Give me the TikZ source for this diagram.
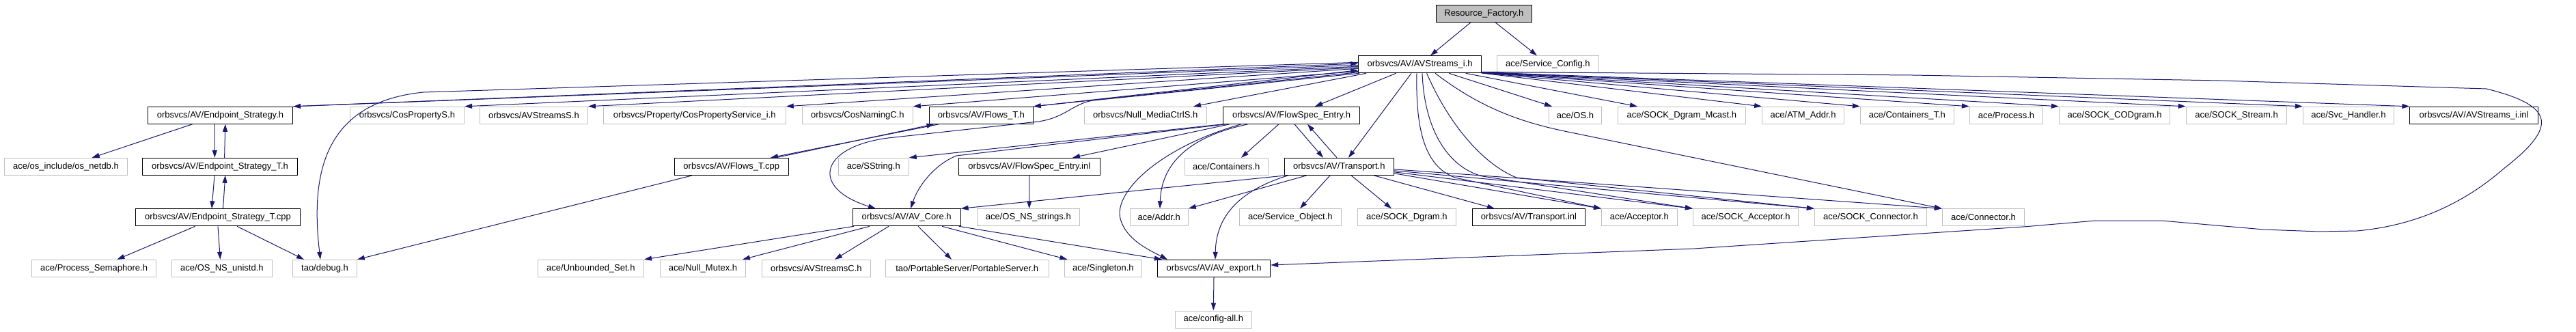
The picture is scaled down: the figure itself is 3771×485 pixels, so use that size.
\documentclass[tikz,border=0pt]{standalone}
\usepackage{fontspec}
\newfontfamily\lab{Liberation Sans}
\usetikzlibrary{arrows.meta,calc}
\definecolor{edgec}{HTML}{191970}
\definecolor{gborder}{HTML}{BFBFBF}
\begin{document}
\begin{tikzpicture}[x=1pt,y=-1pt,
  nb/.style={draw, rectangle, minimum height=25pt, inner sep=0pt, line width=1pt, text=black, font=\lab\fontsize{13}{15}\selectfont},
  gb/.style={nb, draw=gborder},
  bb/.style={nb, draw=black},
  edg/.style={draw=edgec, line width=1pt, -{Triangle[length=11pt,width=7pt]}}]
\fill[white] (0,0) rectangle (3771,485);
\useasboundingbox (0,0) rectangle (3771,485);
% row 0
\node[bb, fill=gborder, minimum width=140pt] (rf) at (2172.4,19.8) {Resource\_Factory.h};
% row 1
\node[bb, minimum width=180pt] (avs) at (2078.6,94.3) {orbsvcs/AV/AVStreams\_i.h};
\node[gb, minimum width=149pt] (sc) at (2265.9,94.3) {ace/Service\_Config.h};
% row 2
\node[bb, minimum width=212.3pt] (es) at (322.5,168.8) {orbsvcs/AV/Endpoint\_Strategy.h};
\node[gb, minimum width=167.4pt] (cps) at (595.9,168.8) {orbsvcs/CosPropertyS.h};
\node[gb, minimum width=158pt] (avss) at (781.4,168.8) {orbsvcs/AVStreamsS.h};
\node[gb, minimum width=266.9pt] (cpsi) at (1016.8,168.8) {orbsvcs/Property/CosPropertyService\_i.h};
\node[gb, minimum width=162pt] (cnc) at (1255.3,168.8) {orbsvcs/CosNamingC.h};
\node[bb, minimum width=152pt] (ft) at (1436.3,168.8) {orbsvcs/AV/Flows\_T.h};
\node[gb, minimum width=178.8pt] (nmc) at (1676.7,168.8) {orbsvcs/Null\_MediaCtrlS.h};
\node[bb, minimum width=200pt] (fse) at (1890.5,168.8) {orbsvcs/AV/FlowSpec\_Entry.h};
\node[gb, minimum width=77.2pt] (os) at (2305.9,168.8) {ace/OS.h};
\node[gb, minimum width=187.3pt] (sdm) at (2461.9,168.8) {ace/SOCK\_Dgram\_Mcast.h};
\node[gb, minimum width=120pt] (atm) at (2639.6,168.8) {ace/ATM\_Addr.h};
\node[gb, minimum width=137.1pt] (ctt) at (2791.9,168.8) {ace/Containers\_T.h};
\node[gb, minimum width=107.3pt] (proc) at (2937,168.8) {ace/Process.h};
\node[gb, minimum width=162.3pt] (scod) at (3095.5,168.8) {ace/SOCK\_CODgram.h};
\node[gb, minimum width=147.7pt] (sst) at (3274,168.8) {ace/SOCK\_Stream.h};
\node[gb, minimum width=133.1pt] (svc) at (3437.9,168.8) {ace/Svc\_Handler.h};
\node[bb, minimum width=187.4pt] (inl) at (3621.6,168.8) {orbsvcs/AV/AVStreams\_i.inl};
% row 3
\node[gb, minimum width=180pt] (netdb) at (96.5,243.8) {ace/os\_include/os\_netdb.h};
\node[bb, minimum width=226.9pt] (estt) at (322,243.8) {orbsvcs/AV/Endpoint\_Strategy\_T.h};
\node[bb, minimum width=167pt] (ftc) at (1070.8,243.8) {orbsvcs/AV/Flows\_T.cpp};
\node[gb, minimum width=102.9pt] (sstr) at (1278.8,243.8) {ace/SString.h};
\node[bb, minimum width=206.9pt] (fsei) at (1506.8,243.8) {orbsvcs/AV/FlowSpec\_Entry.inl};
\node[gb, minimum width=122pt] (cont) at (1795.3,243.8) {ace/Containers.h};
\node[bb, minimum width=159.8pt] (tr) at (1960.3,243.8) {orbsvcs/AV/Transport.h};
% row 4
\node[bb, minimum width=241.2pt] (estc) at (319,318.3) {orbsvcs/AV/Endpoint\_Strategy\_T.cpp};
\node[bb, minimum width=157.9pt] (core) at (1327.2,318.3) {orbsvcs/AV/AV\_Core.h};
\node[gb, minimum width=150.2pt] (nss) at (1505.3,318.3) {ace/OS\_NS\_strings.h};
\node[gb, minimum width=84.9pt] (addr) at (1696.8,318.3) {ace/Addr.h};
\node[gb, minimum width=149pt] (so) at (1888.8,318.3) {ace/Service\_Object.h};
\node[gb, minimum width=144.1pt] (sdg) at (2059.4,318.3) {ace/SOCK\_Dgram.h};
\node[bb, minimum width=164.9pt] (tinl) at (2238,318.3) {orbsvcs/AV/Transport.inl};
\node[gb, minimum width=110.6pt] (acc) at (2399.8,318.3) {ace/Acceptor.h};
\node[gb, minimum width=154.3pt] (sacc) at (2555.6,318.3) {ace/SOCK\_Acceptor.h};
\node[gb, minimum width=164.1pt] (scon) at (2738.4,318.3) {ace/SOCK\_Connector.h};
\node[gb, minimum width=120.4pt] (conn) at (2903.5,318.3) {ace/Connector.h};
% row 5
\node[gb, minimum width=182.1pt] (psem) at (137.6,392.8) {ace/Process\_Semaphore.h};
\node[gb, minimum width=147pt] (unistd) at (324.9,392.8) {ace/OS\_NS\_unistd.h};
\node[gb, minimum width=93.8pt] (debug) at (475.5,392.8) {tao/debug.h};
\node[gb, minimum width=155.1pt] (uset) at (864.9,392.8) {ace/Unbounded\_Set.h};
\node[gb, minimum width=124.9pt] (nmut) at (1029,392.8) {ace/Null\_Mutex.h};
\node[gb, minimum width=158.8pt] (avsc) at (1194.9,392.8) {orbsvcs/AVStreamsC.h};
\node[gb, minimum width=238.8pt] (ps) at (1415.7,392.8) {tao/PortableServer/PortableServer.h};
\node[gb, minimum width=113pt] (sing) at (1614.9,392.8) {ace/Singleton.h};
\node[bb, minimum width=165.3pt] (exp) at (1777,392.8) {orbsvcs/AV/AV\_export.h};
% row 6
\node[gb, minimum width=111.8pt] (cfg) at (1776.3,467.5) {ace/config-all.h};

% ---- edges
\draw[edg] ($(rf.south)+(-19.4,0)$) -- ($(avs.north)+(15.4,0)$);
\draw[edg] ($(rf.south)+(16.6,0)$) -- ($(sc.north)+(-15.9,0)$);
% left fan
\draw[edg] ($(avs.west)+(0,-3)$) -- (620,135) .. controls (470,150) and (455,260) .. ($(debug.north)+(-6.5,0)$);
\draw[edg] ($(avs.west)+(0,1)$) -- (es.north east);
\draw[edg] (es.north east) -- ($(avs.west)+(0,-1.3)$);
\draw[edg] ($(avs.west)+(0,3)$) -- (cps.north east);
\draw[edg] ($(avs.west)+(0,4.5)$) -- (avss.north east);
\draw[edg] ($(avs.west)+(0,6)$) -- (cpsi.north east);
\draw[edg] (ft.north east) -- ($(avs.west)+(0,8.5)$);
\draw[edg] ($(avs.west)+(0,10)$) -- (cnc.north east);
\draw[edg] ($(avs.west)+(0,11.5)$) -- (ft.north east);
\draw[edg] ($(avs.south west)+(12,0)$) -- ($(nmc.north)+(70.3,0)$);
\draw[edg] ($(avs.south west)+(2,0)$) -- (1600,147) .. controls (1570,152) and (1560,172) .. (1520,178) -- (1300,202) .. controls (1200,215) and (1185,275) .. ($(core.north)+(-45.2,0)$);
% down from avs
\draw[edg] ($(avs.south)+(-35,0)$) -- ($(fse.north)+(34.5,0)$);
\draw[edg] ($(avs.south)+(-12.6,0)$) -- ($(tr.north)+(13.7,0)$);
\draw[edg] ($(avs.south)+(-4.6,0)$) .. controls (2072,200) and (2090,245) .. (2130,260) -- (acc.north west);
\draw[edg] ($(avs.south)+(3.4,0)$) .. controls (2085,190) and (2120,245) .. (2170,258) -- (sacc.north west);
\draw[edg] ($(avs.south)+(10,0)$) .. controls (2120,180) and (2170,240) .. (2220,260) -- (scon.north west);
\draw[edg] ($(avs.south)+(22.4,0)$) .. controls (2170,160) and (2230,180) .. (2300,194) -- (conn.north west);
\draw[edg] ($(avs.south)+(42.4,0)$) -- ($(os.north)+(-33.9,0)$);
\draw[edg] ($(avs.south)+(67,0)$) -- ($(sdm.north)+(-64.9,0)$);
% right fan
\draw[edg] ($(avs.east)+(0,12.7)$) -- (atm.north west);
\draw[edg] ($(avs.east)+(0,12.5)$) -- (ctt.north west);
\draw[edg] ($(avs.east)+(0,12.3)$) -- (proc.north west);
\draw[edg] ($(avs.east)+(0,12.1)$) -- (scod.north west);
\draw[edg] ($(avs.east)+(0,11.9)$) -- (sst.north west);
\draw[edg] ($(avs.east)+(0,11.7)$) -- (svc.north west);
\draw[edg] ($(avs.east)+(0,11.5)$) -- (inl.north west);
\draw[edg] ($(avs.east)+(0,11)$) -- (2800,110) -- (3250,118) -- (3640,130) .. controls (3740,155) and (3745,185) .. (3665,247) .. controls (3610,295) and (3540,330) .. (3450,338) -- (3395,339) -- (3314,336) -- (3164,323) -- (3068,323) -- (2962,332) -- (2480,364) -- ($(exp.east)+(0,-4.8)$);
% Transport
\draw[edg] ($(tr.south)+(50.7,0)$) -- ($(tinl.north)+(-50,0)$);
\draw[edg] ($(tr.east)+(0,4)$) -- (conn.north west);
\draw[edg] ($(tr.east)+(0,6)$) -- (scon.north west);
\draw[edg] ($(tr.east)+(0,8)$) -- (sacc.north west);
\draw[edg] ($(tr.east)+(0,10)$) -- (acc.north west);
\draw[edg] ($(tr.south)+(17.7,0)$) -- ($(sdg.north)+(-22.4,0)$);
\draw[edg] ($(tr.south)+(-13.3,0)$) -- ($(so.north)+(14.2,0)$);
\draw[edg] ($(tr.south)+(-47.3,0)$) -- (addr.north east);
\draw[edg] ($(tr.south west)+(3,0)$) -- (core.north east);
\draw[edg] ($(tr.south west)+(6,0)$) .. controls (1810,280) and (1780,320) .. ($(exp.north)+(2,0)$);
\draw[edg] ($(tr.north)+(-3.3,0)$) -- ($(fse.south)+(23.5,0)$);
% FlowSpec_Entry
\draw[edg] ($(fse.south)+(4.5,0)$) -- ($(tr.north)+(-23.3,0)$);
\draw[edg] ($(fse.south)+(-18.5,0)$) -- ($(cont.north)+(21.7,0)$);
\draw[edg] ($(fse.south)+(-63.5,0)$) .. controls (1740,200) and (1700,240) .. ($(addr.north)+(1.2,0)$);
\draw[edg] ($(fse.south)+(-73.5,0)$) .. controls (1700,215) and (1630,280) .. (1640,320) .. controls (1648,350) and (1680,365) .. ($(exp.north)+(-68,0)$);
\draw[edg] ($(fse.south west)+(5,0)$) -- (1400,228) .. controls (1370,240) and (1345,270) .. ($(core.north)+(5.8,0)$);
\draw[edg] ($(fse.south west)+(10,0)$) -- ($(fsei.north)+(63.2,0)$);
\draw[edg] (fse.south west) -- (sstr.north east);
\draw[edg] (fsei.south) -- ($(nss.north)+(1.4,0)$);
% Flows
\draw[edg] ($(ft.south west)+(14.7,0)$) -- ($(ftc.north)+(57.2,0)$);
\draw[edg] ($(ftc.north)+(65,0)$) -- ($(ft.south west)+(7.7,0)$);
\draw[edg] ($(ftc.south west)+(26.7,0)$) -- (debug.north east);
% Endpoint strategy
\draw[edg] ($(es.south)+(-40.9,0)$) -- ($(netdb.north)+(38.2,0)$);
\draw[edg] ($(es.south)+(-8.2,0)$) -- ($(estt.north)+(-7.7,0)$);
\draw[edg] ($(estt.north)+(6.6,0)$) -- ($(es.south)+(7.3,0)$);
\draw[edg] ($(estt.south)+(-8,0)$) -- ($(estc.north)+(-9,0)$);
\draw[edg] ($(estc.north)+(7.5,0)$) -- ($(estt.south)+(7.8,0)$);
\draw[edg] ($(estc.south)+(-33.3,0)$) -- ($(psem.north)+(33.8,0)$);
\draw[edg] (estc.south) -- ($(unistd.north)+(-2.5,0)$);
\draw[edg] ($(estc.south)+(28,0)$) -- ($(debug.north)+(-30.5,0)$);
% AV_Core
\draw[edg] ($(core.south west)+(2,0)$) -- (uset.north east);
\draw[edg] ($(core.south)+(-54.2,0)$) -- ($(nmut.north)+(58,0)$);
\draw[edg] ($(core.south)+(-26.2,0)$) -- ($(avsc.north)+(27.1,0)$);
\draw[edg] ($(core.south)+(16.8,0)$) -- ($(ps.north)+(-22.7,0)$);
\draw[edg] ($(core.south)+(51.8,0)$) -- ($(sing.north)+(-52.5,0)$);
\draw[edg] ($(core.south east)+(-3,0)$) -- ($(exp.north west)+(7,0)$);
\draw[edg] (exp.south) -- (cfg.north);
\end{tikzpicture}
\end{document}
